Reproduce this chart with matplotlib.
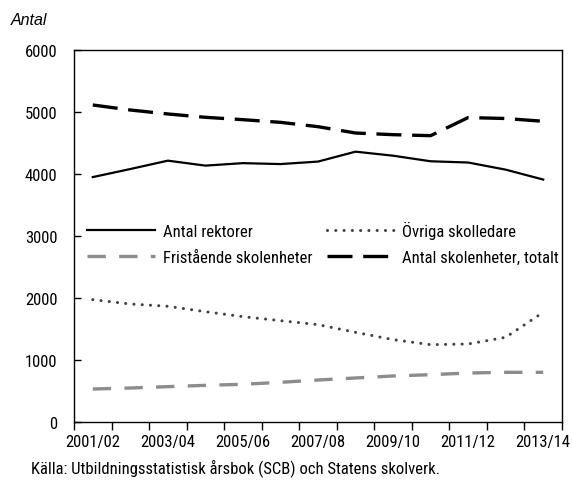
import matplotlib
matplotlib.use('Agg')
import matplotlib.pyplot as plt

years = ['2001/02', '2002/03', '2003/04', '2004/05', '2005/06', '2006/07', '2007/08',
         '2008/09', '2009/10', '2010/11', '2011/12', '2012/13', '2013/14']
rektorer = [3950, 4080, 4215, 4135, 4175, 4160, 4200, 4360, 4295, 4205, 4185, 4070, 3910]
ovriga = [1973, 1903, 1866, 1779, 1699, 1634, 1570, 1446, 1328, 1247, 1258, 1366, 1769]
fristaende = [532, 548, 570, 591, 608, 640, 677, 710, 742, 763, 790, 801, 801]
totalt = [5113, 5032, 4968, 4914, 4876, 4833, 4763, 4661, 4634, 4618, 4910, 4895, 4850]

plt.rcParams['font.family'] = ['Roboto Condensed', 'DejaVu Sans']
plt.rcParams['font.size'] = 12

fig = plt.figure(figsize=(5.72, 4.81), dpi=100)
ax = fig.add_axes([0.1294, 0.1206, 0.8531, 0.7734])

x = list(range(len(years)))
l1, = ax.plot(x, rektorer, color='black', lw=1.6, label='Antal rektorer')
l2, = ax.plot(x, ovriga, color='#404040', lw=2.2, dashes=(0.01, 2.7), dash_capstyle='round',
              label='Övriga skolledare')
l3, = ax.plot(x, fristaende, color='#8c8c8c', lw=2.4, dashes=(5.5, 4), label='Fristående skolenheter')
l4, = ax.plot(x, totalt, color='black', lw=2.4, dashes=(7.5, 3.2), label='Antal skolenheter, totalt')

ax.set_xlim(-0.5, len(years) - 0.5)
ax.set_ylim(0, 6000)
ax.set_yticks(range(0, 6001, 1000))
ax.tick_params(axis='y', direction='in', length=5, width=1, pad=12)
ax.set_xticks(x[::2])
ax.set_xticklabels(years[::2])
ax.set_xticks([i - 0.5 for i in range(len(years) + 1)], minor=True)
ax.tick_params(axis='x', which='major', length=0, pad=9)
ax.tick_params(axis='x', which='minor', direction='out', length=6, width=1)
for s in ax.spines.values():
    s.set_linewidth(1)

# row order: rektorer, övriga / fristående, totalt
ax.legend([l1, l3, l2, l4], [l.get_label() for l in (l1, l3, l2, l4)],
          loc='upper left', bbox_to_anchor=(0.013, 0.559), ncol=2, frameon=False,
          handlelength=4.1, handletextpad=0.45, columnspacing=0.85, labelspacing=0.68,
          borderaxespad=0, fontsize=12)

fig.text(0.019, 0.957, 'Antal', style='italic', fontsize=11.5, va='center',
         family=['Liberation Sans', 'DejaVu Sans'])
fig.text(0.055, 0.027, 'Källa: Utbildningsstatistisk årsbok (SCB) och Statens skolverk.',
         fontsize=12, va='center')

fig.savefig('out.png', dpi=100)
